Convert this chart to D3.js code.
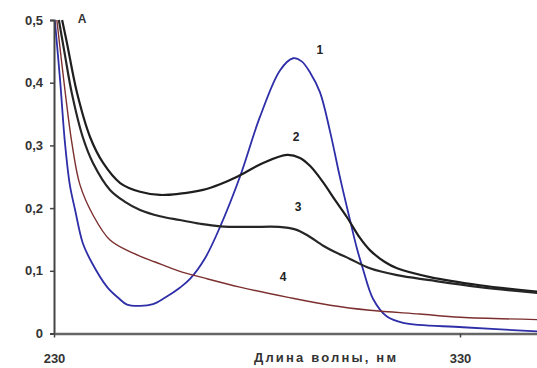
<!DOCTYPE html>
<html>
<head>
<meta charset="utf-8">
<script src="https://cdn.jsdelivr.net/npm/d3@7"></script>
<style>
  body { margin: 0; background: #fff; }
  svg { display: block; font-family: "Liberation Sans", Arial, sans-serif; }
  .tk text { font-size: 13px; font-weight: bold; fill: #333; }
</style>
</head>
<body>
<svg id="chart" width="537" height="368"></svg>
<script>
// spectra: [wavelength nm, absorbance]
var curve1 = [[230.2,0.50],[231.5,0.404],[232.7,0.304],[233.9,0.237],[235.2,0.197],[237.1,0.144],
  [239.4,0.112],[243.1,0.074],[245.8,0.057],[248.0,0.046],[251.2,0.044],[254.4,0.047],[257.3,0.057],
  [261.0,0.073],[263.5,0.087],[267.2,0.120],[270.9,0.170],[275.8,0.250],[280.7,0.345],[285.7,0.420],
  [288.9,0.439],[291.0,0.434],[293.1,0.416],[295.5,0.385],[298.0,0.322],[300.4,0.250],[302.9,0.181],
  [304.6,0.136],[306.0,0.105],[308.6,0.055],[312.0,0.027],[316.0,0.017],[330.7,0.010],[350,0.003]];
var curve2 = [[232.0,0.50],[233.2,0.463],[235.7,0.383],[238.9,0.313],[242.1,0.272],[246.3,0.240],
  [251.2,0.226],[256.1,0.221],[261.0,0.223],[266.7,0.229],[270.9,0.238],[275.1,0.250],[281.5,0.272],
  [287.4,0.285],[290.6,0.280],[293.1,0.267],[296.3,0.241],[299.2,0.213],[302.2,0.185],[305.4,0.152],
  [307.8,0.133],[311.5,0.114],[314.5,0.104],[322.6,0.090],[334.9,0.077],[350,0.066]];
var curve3 = [[231.2,0.50],[232.7,0.444],[234.4,0.383],[237.1,0.313],[239.6,0.272],[243.8,0.229],
  [247.5,0.210],[251.2,0.197],[256.1,0.187],[261.0,0.181],[266.0,0.175],[270.9,0.171],[278.3,0.170],
  [285.4,0.170],[289.4,0.166],[292.3,0.157],[296.3,0.140],[299.2,0.130],[302.9,0.119],[307.8,0.104],
  [314.5,0.093],[322.6,0.085],[334.9,0.074],[350,0.064]];
var curve4 = [[230.7,0.50],[232.7,0.388],[234.4,0.304],[236.4,0.237],[239.6,0.189],[243.8,0.149],
  [249.5,0.128],[254.9,0.114],[261.0,0.099],[266.7,0.089],[275.8,0.074],[287.4,0.058],[298.0,0.045],
  [307.8,0.037],[320.1,0.031],[330.1,0.026],[350,0.022]];

var seriesNames  = ["1", "2", "3", "4"];
var seriesColors = ["#2e2ea8", "#1e1e1e", "#262626", "#7c2f2f"];
// where the number labels sit, [nm, A]
var labelPos = [[295.5,0.452],[289.6,0.313],[290.1,0.202],[286.4,0.090]];

var yTicks = [0, 0.1, 0.2, 0.3, 0.4, 0.5];
var xTicks = [230, 330];

var svg = d3.select("#chart");

var x = d3.scaleLinear().domain([230, 350]).range([54, 541.2]);
var y = d3.scaleLinear().domain([0, 0.5]).range([333.5, 20]);

svg.append("defs").append("clipPath").attr("id", "plot")
  .append("rect").attr("x", 54).attr("y", 19).attr("width", 490).attr("height", 320);

var line = d3.line()
  .x(function(d) { return x(d[0]); })
  .y(function(d) { return y(d[1]); })
  .curve(d3.curveCatmullRom.alpha(0.5));

var g = svg.append("g").attr("clip-path", "url(#plot)");
[curve1, curve2, curve3, curve4].forEach(function(c, i) {
  g.append("path")
    .datum(c)
    .attr("d", line)
    .attr("fill", "none")
    .attr("stroke", seriesColors[i])
    .attr("stroke-width", i == 3 ? 1.4 : (i == 0 ? 1.8 : 2.2))
    .attr("stroke-linejoin", "round");
});

var comma = function(d) { return String(d).replace(".", ","); };

var gy = svg.append("g").attr("class", "tk")
  .attr("transform", "translate(" + x(230) + ",0)")
  .call(d3.axisLeft(y).tickValues(yTicks).tickSize(4).tickPadding(7).tickFormat(comma));
gy.select(".domain").attr("stroke", "#444").attr("stroke-width", 2);
gy.selectAll(".tick line").attr("stroke", "#444").attr("stroke-width", 1.5);

var gx = svg.append("g").attr("class", "tk")
  .attr("transform", "translate(0," + y(0) + ")")
  .call(d3.axisBottom(x).tickValues(xTicks).tickSize(4).tickPadding(16).tickSizeOuter(0));
gx.select(".domain").attr("stroke", "#666").attr("stroke-width", 2.5);
gx.selectAll(".tick line").attr("stroke", "#444").attr("stroke-width", 1.5);

svg.append("text")
  .attr("x", 82).attr("y", 23)
  .attr("text-anchor", "middle")
  .style("font-size", "12px").style("font-weight", "bold").style("fill", "#333")
  .text("A");

svg.append("text")
  .attr("x", 325).attr("y", 362)
  .attr("text-anchor", "middle")
  .attr("textLength", 142).attr("lengthAdjust", "spacing")
  .style("font-size", "13px").style("font-weight", "bold").style("fill", "#333")
  .text("Длина волны, нм");

svg.selectAll(".lbl")
  .data(seriesNames)
  .enter().append("text")
  .attr("class", "lbl")
  .attr("x", function(d, i) { return x(labelPos[i][0]); })
  .attr("y", function(d, i) { return y(labelPos[i][1]); })
  .attr("dy", "0.35em")
  .attr("text-anchor", "middle")
  .style("font-size", "12px").style("font-weight", "bold").style("fill", "#222")
  .text(function(d) { return d; });
</script>
</body>
</html>
